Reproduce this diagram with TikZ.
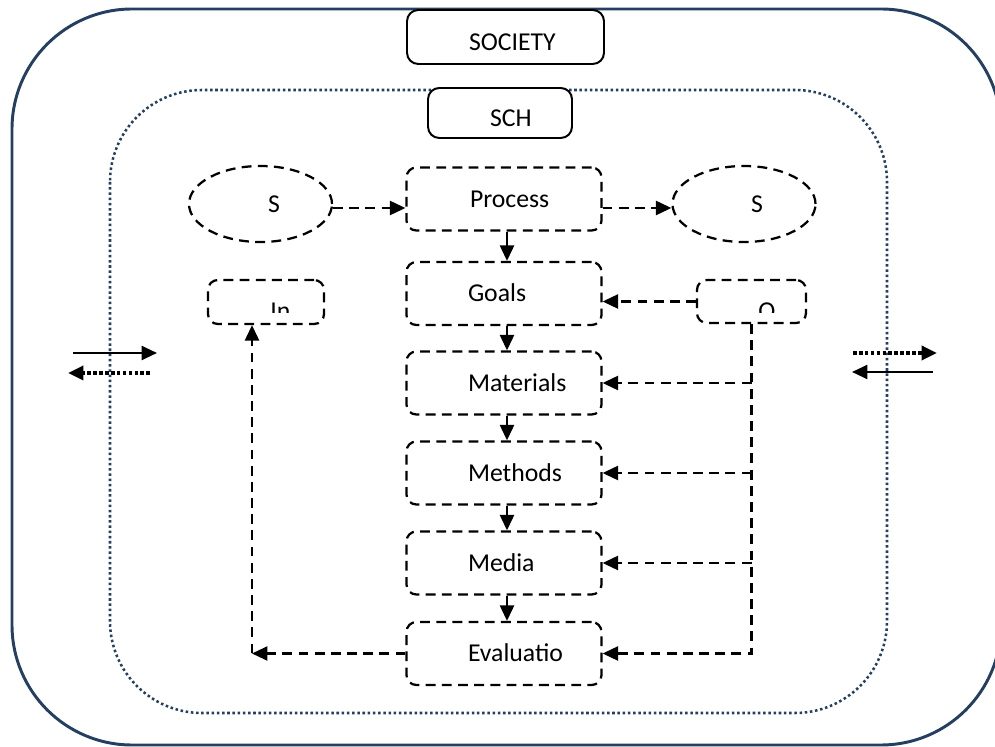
\documentclass[tikz,border=0pt]{standalone}
\usepackage{fontspec}
\setmainfont{Carlito}
\usetikzlibrary{arrows.meta,shapes.geometric}
\definecolor{frameblue}{HTML}{243F60}
% one drawing unit
\newdimen\pxu \pxu=0.025cm
% text that starts at a fixed offset from the node centre
\newcommand{\offsettext}[2]{\rlap{\hspace*{#1\pxu}#2}}
\tikzset{
  box/.style={draw, line width=1.6pt, dash pattern=on 7pt off 4.5pt, rounded corners=7pt,
    minimum width=195\pxu, minimum height=63\pxu, inner sep=0pt, text height=11.8pt, text depth=0pt},
  oval/.style={ellipse, draw, line width=1.6pt, dash pattern=on 7pt off 4.5pt,
    minimum width=143\pxu, minimum height=76\pxu, inner sep=0pt, text height=11.8pt, text depth=0pt},
  plainbox/.style={draw, line width=1.4pt, rounded corners=8pt, fill=white, inner sep=0pt,
    text height=18.9pt, text depth=0pt},
  tip/.style={-{Triangle[length=11pt,width=10pt]}},
  flow/.style={tip, line width=1.6pt, dash pattern=on 7pt off 4.5pt},
  chain/.style={tip, line width=1.6pt},
  dotflow/.style={tip, line width=2.6pt, dash pattern=on 2.6pt off 1.6pt},
}
\begin{document}
\begin{tikzpicture}[x=0.025cm, y=-0.025cm, font=\fontsize{18.3}{22}\selectfont]
\useasboundingbox (0,0) rectangle (995,747);
% society and school frames
\draw [frameblue, line width=2.1pt, rounded corners=120\pxu] (12,9) rectangle (1001,745);
\draw [frameblue, line width=1.8pt, dash pattern=on 1.8pt off 1.9pt, rounded corners=92\pxu] (110,90) rectangle (887,713);
\node [plainbox, minimum width=197\pxu, minimum height=54\pxu] (society) at (505.5,37) {\offsettext{-36.5}{SOCIETY}};
\node [plainbox, minimum width=144\pxu, minimum height=50\pxu] (sch) at (500,113) {\offsettext{-10}{SCH}};
% top row
\node [oval] (sl) at (260.5,204) {\offsettext{7.5}{S}};
\node [box] (process) at (504,199) {\offsettext{-34}{Process}};
\node [oval] (sr) at (744,204) {\offsettext{7}{S}};
\draw [flow] ([yshift=-4\pxu]sl.east) -- ([yshift=-9\pxu]process.west);
\draw [flow] ([yshift=-9\pxu]process.east) -- ([yshift=-4\pxu]sr.west);
% main column
\node [box] (goals) at (504,293.5) {\offsettext{-36}{Goals}};
\node [box] (materials) at (504,383) {\offsettext{-36}{Materials}};
\node [box] (methods) at (504,473) {\offsettext{-36}{Methods}};
\node [box] (media) at (504,563) {\offsettext{-36}{Media}};
\node [box] (evaluation) at (504,653.5) {\offsettext{-36}{Evaluatio}};
\foreach \a/\b in {process/goals, goals/materials, materials/methods, methods/media, media/evaluation}
  \draw [chain] ([xshift=3\pxu]\a.south) -- ([xshift=3\pxu]\b.north);
% input and output
\node [box, minimum width=116\pxu, minimum height=44\pxu] (input) at (266,302) {};
\node [box, minimum width=109\pxu, minimum height=43\pxu] (output) at (751.5,301.5) {};
\begin{scope}
\clip (208,280) rectangle (324,313);
\node [anchor=base west, inner sep=0pt] (intext) at (270,319.6) {In};
\end{scope}
\begin{scope}
\clip (697,280) rectangle (806,313);
\node [anchor=base west, inner sep=0pt] (outtext) at (758,319.6) {O};
\end{scope}
\draw [flow] (output.west) -- (output.west -| goals.east);
\draw [flow] (output.south) |- (evaluation.east);
\foreach \n in {materials, methods, media}
  \draw [flow] (output.south |- \n.east) -- (\n.east);
\coordinate (lturn) at (252,653.5);
\draw [flow] (evaluation.west) -- (lturn);
\draw [flow] (lturn) -- (lturn |- input.south);
% exchange with society
\coordinate (lina) at (73,353);   \coordinate (linb) at (157,353);
\coordinate (louta) at (150,373); \coordinate (loutb) at (68,373);
\coordinate (routa) at (853,353); \coordinate (routb) at (937,353);
\coordinate (rina) at (933,372);  \coordinate (rinb) at (852,372);
\draw [chain] (lina) -- (linb);
\draw [dotflow] (louta) -- (loutb);
\draw [dotflow] (routa) -- (routb);
\draw [chain] (rina) -- (rinb);
\end{tikzpicture}
\end{document}
